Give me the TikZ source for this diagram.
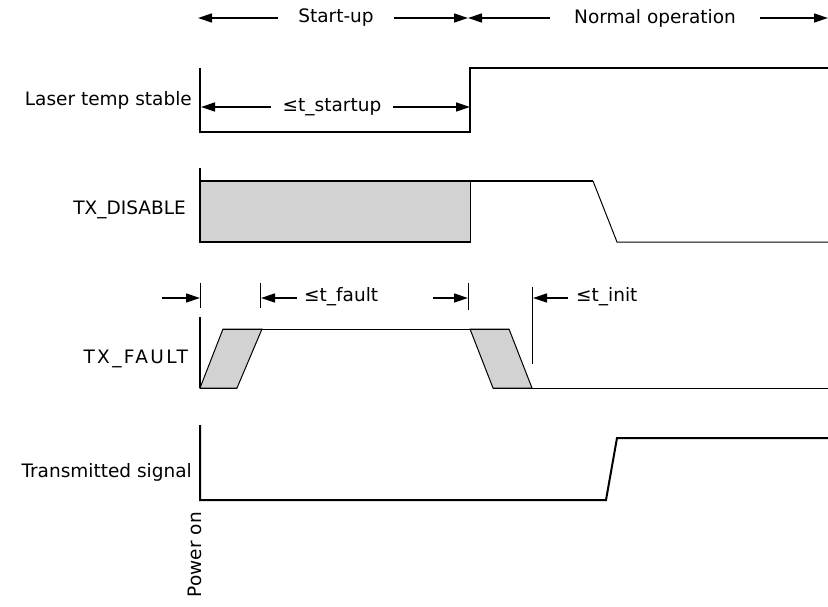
\documentclass[tikz,border=0pt]{standalone}
\usepackage{fontspec}
\setmainfont{DejaVu Sans}
\usetikzlibrary{arrows.meta}

\tikzset{
	sig/.style={line width=2pt},
	thinsig/.style={line width=1pt},
	span/.style={line width=1.4pt,-{Triangle[length=14pt,width=9pt]}},
	tick/.style={line width=1pt},
	lbl/.style={anchor=east,inner sep=0pt},
	shade/.style={fill=gray!35,line width=1pt},
}

\begin{document}
\begin{tikzpicture}[x=1pt,y=-1pt,font=\fontsize{18.5}{20}\selectfont]
		\useasboundingbox (0,0) rectangle (828,607);
		% phases
		\coordinate (su0) at (198,18);
		\coordinate (su1) at (468,18);
		\coordinate (no1) at (828,18);
		\node[inner xsep=20pt] (startup) at (336,18) {Start-up};
		\node[inner xsep=24pt] (normal) at (655,18) {Normal operation};
		\draw[span] (startup) -- (su0);
		\draw[span] (startup) -- (su1);
		\draw[span] (normal) -- (su1);
		\draw[span] (normal) -- (no1);

		% laser temp stable
		\node[lbl] (laser) at (192,100) {Laser temp stable};
		\draw[sig] (200,68) -- (200,132) -- (470,132) -- (470,68) -- (828,68);
		\coordinate (ts0) at (201,107);
		\coordinate (ts1) at (470,107);
		\node[inner xsep=12pt] (tstart) at (332,107) {≤t\_startup};
		\draw[span] (tstart) -- (ts0);
		\draw[span] (tstart) -- (ts1);

		% tx disable
		\node[lbl] (disable) at (186,210) {TX\_DISABLE};
		\filldraw[shade] (200,181) rectangle (470,242);
		\draw[sig] (200,168) -- (200,242) -- (470,242);
		\draw[sig] (200,181) -- (593,181);
		\draw[thinsig] (593,181) -- (617,242) -- (828,242);

		% tx fault
		\node[lbl] (fault) at (188,359) {\addfontfeature{LetterSpace=13}TX\_FAULT};
		\draw[tick] (200,283) -- (200,308);
		\draw[tick] (260,283) -- (260,308);
		\draw[tick] (468,283) -- (468,310);
		\draw[tick] (532,287) -- (532,364);
		\coordinate (f0) at (162,298);
		\coordinate (f1) at (200,298);
		\coordinate (f2) at (261,298);
		\coordinate (f3) at (297,298);
		\coordinate (f4) at (433,298);
		\coordinate (f5) at (468,298);
		\coordinate (f6) at (533,298);
		\coordinate (f7) at (568,298);
		\draw[span] (f0) -- (f1);
		\draw[span] (f3) -- (f2);
		\draw[span] (f4) -- (f5);
		\draw[span] (f7) -- (f6);
		\node[anchor=west,inner sep=0pt] (tfault) at (304,297) {≤t\_fault};
		\node[anchor=west,inner sep=0pt] (tinit) at (576,297) {≤t\_init};
		\filldraw[shade] (200,388) -- (223,329) -- (262,329) -- (237,388) -- cycle;
		\filldraw[shade] (470,329) -- (509,329) -- (532,388) -- (493,388) -- cycle;
		\draw[sig] (200,317) -- (200,388);
		\draw[thinsig] (200,388) -- (237,388);
		\draw[thinsig] (223,329) -- (509,329);
		\draw[thinsig] (493,388) -- (828,388);

		% transmitted signal
		\node[lbl] (txsig) at (192,472) {Transmitted signal};
		\draw[sig] (200,425) -- (200,500) -- (606,500) -- (617,438) -- (828,438);
		\node[rotate=90,anchor=east,inner sep=0pt] (power) at (195,512) {Power on};
\end{tikzpicture}
\end{document}
